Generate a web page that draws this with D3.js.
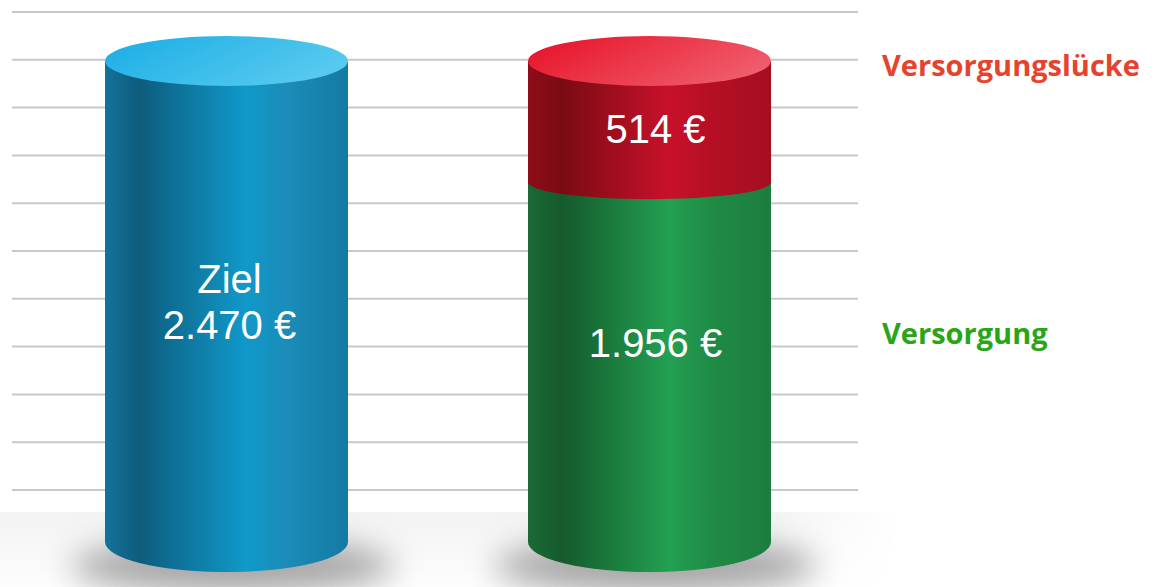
<!DOCTYPE html>
<html>
<head>
<meta charset="utf-8">
<script src="https://cdn.jsdelivr.net/npm/d3@7"></script>
<style>
  html, body { margin: 0; padding: 0; background: #fff; }
  svg { display: block; }
</style>
</head>
<body>
<div id="viz"></div>
<script>

// data
var columns = ["Ziel", "Ist"];
var goalLabel = "Ziel";
var goalValue = 2470;
var segmentNames = ["Versorgung", "Versorgungslücke"];
var segmentValues = [1956, 514];

var W = 1158, H = 587;

var de = d3.formatLocale({decimal: ",", thousands: ".", grouping: [3], currency: ["", " €"]});
var fmt = de.format(",d");

var svg = d3.select("#viz")
    .append("svg")
    .attr("width", W)
    .attr("height", H);

var defs = svg.append("defs");

// cylinders are not drawn from zero in the original graphic
var y = d3.scaleLinear()
    .domain([430, goalValue])
    .range([542, 61]);

var x = d3.scalePoint()
    .domain(columns)
    .range([226.5, 649.5]);

var _rx = 121.5;
var _ryTop = 25, _ryMid = 17, _ryBottom = 30;

var _colors = {
    blue:  {side: ["#14739a", "#0d5c7d", "#1099c9", "#1b8cb8", "#147aa3"], top: ["#1fb0e6", "#5ccbef"]},
    red:   {side: ["#8f0d18", "#7a0b13", "#c8112a", "#b60f24", "#a50e1f"], top: ["#e8172d", "#f0606f"]},
    green: {side: ["#1b6a36", "#155a2b", "#23a052", "#1f8c45", "#1d7c3f"], top: ["#22a050", "#3dbb6a"]}
};
var _stops = [0, 0.14, 0.58, 0.75, 1];

Object.keys(_colors).forEach(function(k){
    var g = defs.append("linearGradient")
        .attr("id", "side-" + k)
        .attr("x1", 0).attr("x2", 1).attr("y1", 0).attr("y2", 0);
    _colors[k].side.forEach(function(c, i){
        g.append("stop").attr("offset", _stops[i]).attr("stop-color", c);
    });
    var t = defs.append("linearGradient")
        .attr("id", "top-" + k)
        .attr("x1", 0).attr("x2", 1).attr("y1", 0.3).attr("y2", 0.7);
    t.append("stop").attr("offset", 0).attr("stop-color", _colors[k].top[0]);
    t.append("stop").attr("offset", 1).attr("stop-color", _colors[k].top[1]);
});

var blur = defs.append("filter").attr("id", "blur")
    .attr("x", "-50%").attr("y", "-100%").attr("width", "200%").attr("height", "300%");
blur.append("feGaussianBlur").attr("stdDeviation", 16);

var floorGrad = defs.append("linearGradient")
    .attr("id", "floor").attr("x1", 0).attr("x2", 0).attr("y1", 0).attr("y2", 1);
floorGrad.append("stop").attr("offset", 0).attr("stop-color", "#f3f3f3");
floorGrad.append("stop").attr("offset", 1).attr("stop-color", "#fdfdfd");

var fadeGrad = defs.append("linearGradient")
    .attr("id", "fade").attr("x1", 0).attr("x2", 1).attr("y1", 0).attr("y2", 0);
fadeGrad.append("stop").attr("offset", 0).attr("stop-color", "#fff").attr("stop-opacity", 1);
fadeGrad.append("stop").attr("offset", 0.85).attr("stop-color", "#fff").attr("stop-opacity", 1);
fadeGrad.append("stop").attr("offset", 1).attr("stop-color", "#fff").attr("stop-opacity", 0);
defs.append("mask").attr("id", "fadeMask")
    .append("rect")
    .attr("x", 0).attr("y", 500).attr("width", 900).attr("height", H - 500)
    .style("fill", "url(#fade)");

// grid lines
var grid = d3.scaleLinear().domain([0, 10]).range([12, 490]);
svg.append("g")
    .selectAll("line")
    .data(d3.range(0, 11))
    .enter()
    .append("line")
    .attr("x1", 12).attr("x2", 858)
    .attr("y1", function(d){ return grid(d); })
    .attr("y2", function(d){ return grid(d); })
    .style("stroke", "#c8c8c8")
    .style("stroke-width", 2);

// floor
svg.append("rect")
    .attr("x", 0).attr("y", 512)
    .attr("width", 900).attr("height", H - 512)
    .style("fill", "url(#floor)")
    .attr("mask", "url(#fadeMask)");

// shadows
svg.append("g")
    .selectAll("ellipse")
    .data(columns)
    .enter()
    .append("ellipse")
    .attr("cx", function(d){ return x(d) + 6; })
    .attr("cy", y(430) + 24)
    .attr("rx", _rx + 40)
    .attr("ry", 28)
    .style("fill", "#6e6e6e")
    .style("opacity", 0.6)
    .attr("filter", "url(#blur)");

function sidePath(cx, yTop, yBot, ryBot){
    return "M" + (cx - _rx) + "," + yTop +
        "L" + (cx - _rx) + "," + yBot +
        "A" + _rx + "," + ryBot + " 0 0 0 " + (cx + _rx) + "," + yBot +
        "L" + (cx + _rx) + "," + yTop + "Z";
}

// goal cylinder
var gx = x(columns[0]);
svg.append("path")
    .attr("d", sidePath(gx, y(goalValue), y(430), _ryBottom))
    .style("fill", "url(#side-blue)");
svg.append("ellipse")
    .attr("cx", gx).attr("cy", y(goalValue))
    .attr("rx", _rx).attr("ry", _ryTop)
    .style("fill", "url(#top-blue)");

// stacked cylinder
var sx = x(columns[1]);
var stack = [];
var acc = 0;
segmentValues.forEach(function(v, i){
    stack.push({name: segmentNames[i], v0: acc, v1: acc + v, value: v});
    acc += v;
});
var segColor = ["green", "red"];

svg.append("g")
    .selectAll("path")
    .data(stack)
    .enter()
    .append("path")
    .attr("d", function(d, i){
        var bottom = i === 0 ? y(430) : y(d.v0);
        return sidePath(sx, y(d.v1), bottom, i === 0 ? _ryBottom : _ryMid);
    })
    .style("fill", function(d, i){ return "url(#side-" + segColor[i] + ")"; });

svg.append("ellipse")
    .attr("cx", sx).attr("cy", y(acc))
    .attr("rx", _rx).attr("ry", _ryTop)
    .style("fill", "url(#top-red)");

// value labels
var labelStyle = function(sel){
    sel.attr("text-anchor", "middle")
        .style("font-family", "'Liberation Sans', Arial, sans-serif")
        .style("font-size", "40px")
        .style("fill", "#ffffff");
};

svg.append("text").call(labelStyle)
    .attr("x", gx + 3).attr("y", 293)
    .text(goalLabel);
svg.append("text").call(labelStyle)
    .attr("x", gx + 3).attr("y", 339)
    .text(fmt(goalValue) + " €");

svg.append("text").call(labelStyle)
    .attr("x", sx + 6).attr("y", (y(stack[1].v0) + y(stack[1].v1)) / 2 + 21)
    .text(fmt(stack[1].value) + " €");
svg.append("text").call(labelStyle)
    .attr("x", sx + 6).attr("y", (y(stack[0].v1) + y(430)) / 2 - 5)
    .text(fmt(stack[0].value) + " €");

// side legend labels
var sideColor = ["#2aa516", "#e5432d"];
svg.append("g")
    .selectAll("text")
    .data(stack)
    .enter()
    .append("text")
    .attr("x", 882)
    .attr("y", function(d, i){
        return i === 1 ? y(d.v1) + 15 : (y(d.v1) + y(430)) / 2 - 18;
    })
    .style("font-family", "'Open Sans', 'Noto Sans', sans-serif")
    .style("font-weight", "bold")
    .style("font-size", "29px")
    .style("fill", function(d, i){ return sideColor[i]; })
    .text(function(d){ return d.name; });

</script>
</body>
</html>
